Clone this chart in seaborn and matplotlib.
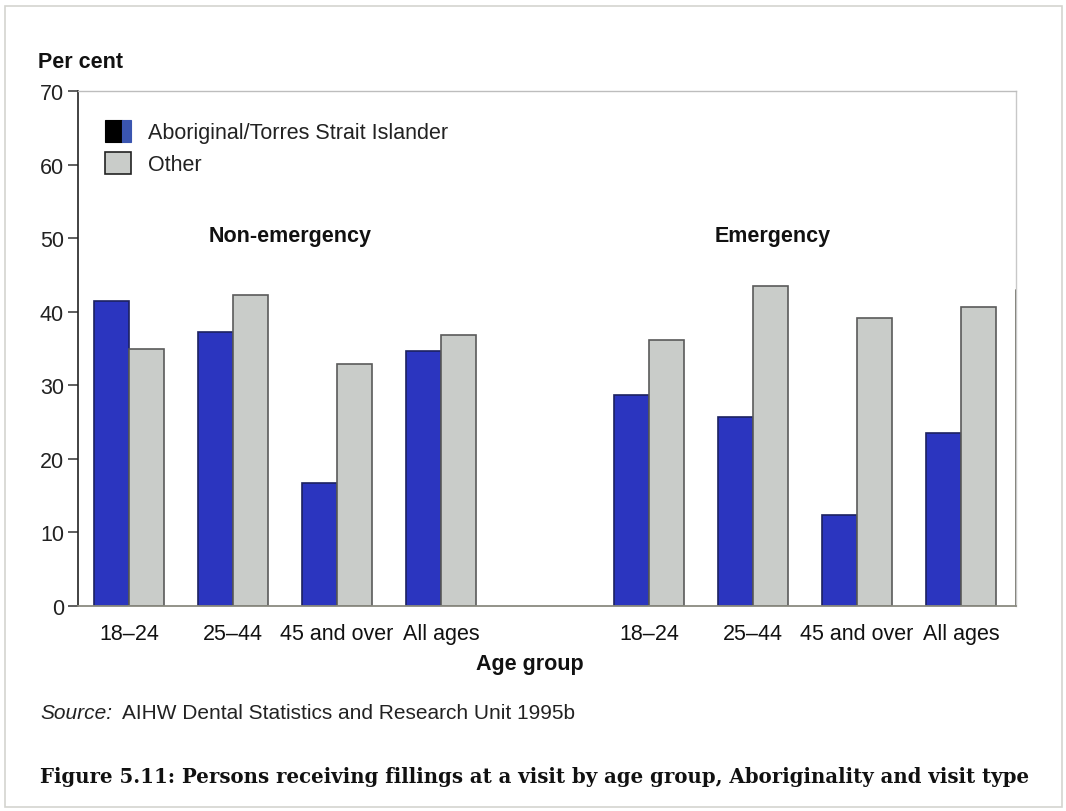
import matplotlib
matplotlib.use("Agg")
import matplotlib.pyplot as plt
import matplotlib.patches as mpatches
from matplotlib.legend_handler import HandlerBase
import seaborn as sns
import pandas as pd

# ---- data -------------------------------------------------------------
age_groups = ["18–24", "25–44", "45 and over", "All ages"]
visit_types = ["Non-emergency", "Emergency"]
series = ["Aboriginal/Torres Strait Islander", "Other"]

nonemerg_aboriginal = [41.4, 37.3, 16.7, 34.6]
nonemerg_other = [35.0, 42.3, 32.9, 36.8]
emerg_aboriginal = [28.7, 25.7, 12.4, 23.5]
emerg_other = [36.1, 43.5, 39.2, 40.7]

y_ticks = [0, 10, 20, 30, 40, 50, 60, 70]

# ---- long table for seaborn -------------------------------------------
rows = []
for vt, ab, ot in [(visit_types[0], nonemerg_aboriginal, nonemerg_other),
                   (visit_types[1], emerg_aboriginal, emerg_other)]:
    for ag, a, o in zip(age_groups, ab, ot):
        slot = f"{vt}|{ag}"
        rows.append({"slot": slot, "group": series[0], "value": a})
        rows.append({"slot": slot, "group": series[1], "value": o})
df = pd.DataFrame(rows)

order = ([f"{visit_types[0]}|{a}" for a in age_groups] + ["spacer"] +
         [f"{visit_types[1]}|{a}" for a in age_groups])

BLUE = "#2b35bf"
GREY = "#c9ccc9"
FS = 15.5

sns.set_theme(style="white")
plt.rcParams["font.family"] = ["Liberation Sans", "DejaVu Sans"]

W, H = 1066, 812
fig = plt.figure(figsize=(W / 100, H / 100), dpi=100)
fig.patch.set_facecolor("white")


def px(x, y):
    return x / W, 1 - y / H


ax = fig.add_axes([78 / W, 1 - 607 / H, (1016 - 78) / W, (607 - 92) / H])

sns.barplot(data=df, x="slot", y="value", hue="group", order=order,
            hue_order=series, palette=[BLUE, GREY], width=0.675,
            saturation=1, errorbar=None, legend=False, ax=ax)

for bar in ax.patches:
    fc = bar.get_facecolor()
    if fc[2] > 0.6 and fc[0] < 0.4:
        bar.set_edgecolor("#1c2160")
    else:
        bar.set_edgecolor("#5a5a5a")
    bar.set_linewidth(1.2)

ax.set_xlim(-0.49, 8.53)
ax.set_ylim(0, 70)
ax.set_yticks(y_ticks)
ax.set_yticklabels([str(t) for t in y_ticks])
ax.set_xticks(range(len(order)))
ax.set_xticklabels([s.split("|")[1] if "|" in s else "" for s in order])
ax.set_xlabel("")
ax.set_ylabel("")

ax.tick_params(axis="y", which="both", left=True, length=7, width=1.1,
               color="#333333", labelsize=FS, labelcolor="#222222", pad=3)
ax.tick_params(axis="x", length=0, labelsize=FS, labelcolor="#111111", pad=12)

ax.spines["left"].set_color("#222222")
ax.spines["left"].set_linewidth(1.2)
ax.spines["bottom"].set_color("#8a8a80")
ax.spines["bottom"].set_linewidth(1.3)
ax.spines["top"].set_color("#bdbdbd")
ax.spines["top"].set_linewidth(1.0)
ax.spines["right"].set_color("#c8c8c8")
ax.spines["right"].set_linewidth(1.0)
ax.axvline(ax.get_xlim()[1], ymin=0, ymax=43 / 70, color="#6a6a60",
           lw=1.3, clip_on=False)

# group headings
ax.text(1.55, 50.4, visit_types[0], ha="center", va="center",
        fontsize=FS, fontweight="bold", color="#111111")
ax.text(6.19, 50.4, visit_types[1], ha="center", va="center",
        fontsize=FS, fontweight="bold", color="#111111")


# legend: the Aboriginal swatch is drawn half black, half blue
class SplitSwatch(HandlerBase):
    def create_artists(self, legend, orig_handle, xdescent, ydescent,
                       width, height, fontsize, trans):
        left = mpatches.Rectangle((-xdescent, -ydescent), width * 0.68, height,
                                  facecolor="black", edgecolor="black",
                                  lw=0.8, transform=trans)
        right = mpatches.Rectangle((-xdescent + width * 0.68, -ydescent),
                                   width * 0.32, height, facecolor="#3a55b0",
                                   edgecolor="#3a55b0", lw=0.8, transform=trans)
        return [left, right]


h_ab = mpatches.Patch(facecolor=BLUE, edgecolor="black")
h_ot = mpatches.Patch(facecolor=GREY, edgecolor="#222222", lw=1.2)
leg = ax.legend([h_ab, h_ot], series, loc="upper left",
                bbox_to_anchor=(0.008, 0.982), frameon=False, fontsize=FS,
                handlelength=1.2, handleheight=1.2, handletextpad=0.8,
                labelspacing=0.42, handler_map={h_ab: SplitSwatch()})
for t in leg.get_texts():
    t.set_color("#222222")

# figure-level text
fig.text(*px(38, 62), "Per cent", ha="left", va="center", fontsize=FS,
         fontweight="bold", color="#111111")
fig.text(*px(530, 665), "Age group", ha="center", va="center", fontsize=FS,
         fontweight="bold", color="#111111")
fig.text(*px(40, 714), "Source:", ha="left", va="center", fontsize=15,
         style="italic", color="#222222")
fig.text(*px(122, 714), "AIHW Dental Statistics and Research Unit 1995b",
         ha="left", va="center", fontsize=15, color="#222222")
fig.text(*px(40, 777),
         "Figure 5.11: Persons receiving fillings at a visit by age group, "
         "Aboriginality and visit type",
         ha="left", va="center", fontsize=14.2, fontweight="bold",
         family=["DejaVu Serif", "Liberation Serif"], color="#111111")

# page border
fig.patches.append(mpatches.Rectangle(px(5, 808), (1062 - 5) / W, (808 - 7) / H,
                                      transform=fig.transFigure, fill=False,
                                      edgecolor="#d4d4d0", lw=1.2))

fig.savefig("out.png", dpi=100)
